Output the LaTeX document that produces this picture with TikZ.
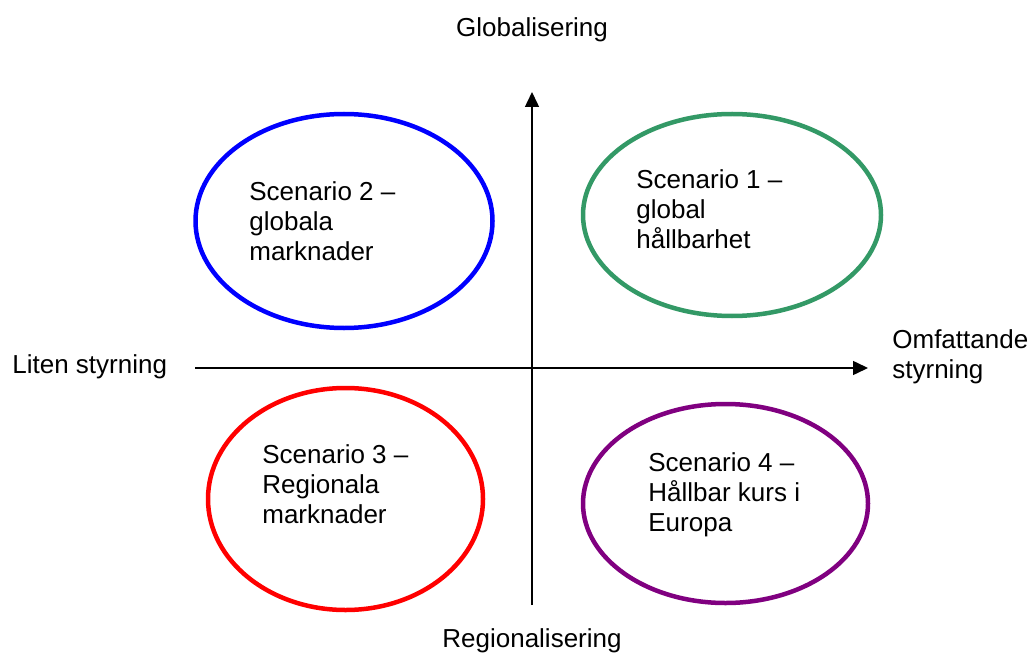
\documentclass[tikz,border=0pt]{standalone}
\usepackage{fontspec}
\setmainfont{Liberation Sans}
\usetikzlibrary{positioning}
\usetikzlibrary{shapes.geometric}
\usetikzlibrary{arrows.meta}
\definecolor{scgreen}{RGB}{51,153,102}
\definecolor{scpurple}{RGB}{128,0,128}
\begin{document}
\begin{tikzpicture}[
  font=\fontsize{14.8}{17}\selectfont,
  scen/.style={draw, ellipse, line width=0.09cm, inner sep=0pt},
  txt/.style={align=left, inner sep=0pt, anchor=west},
  axis/.style={-{Triangle[length=0.3cm, width=0.28cm]}, line width=0.03cm}
]
\useasboundingbox (0,0) rectangle (20.62,13.04);

% axes
\coordinate (w) at (3.9,5.68);
\coordinate (e) at (17.36,5.68);
\coordinate (s) at (10.64,0.94);
\coordinate (n) at (10.64,11.2);
\draw[axis] (w) -- (e);
\draw[axis] (s) -- (n);

\node (glob) at (10.64,12.45) {Globalisering};
\node (reg)  at (10.64,0.22) {Regionalisering};
\node[txt] (liten) at (0.24,5.7) {Liten styrning};
\node[txt] (omf)   at (17.84,5.9) {Omfattande\\styrning};

% scenarios
\node[scen, draw=blue, minimum width=5.94cm, minimum height=4.28cm] (s2) at (6.88,8.62) {};
\node[scen, draw=scgreen, minimum width=5.96cm, minimum height=4.04cm] (s1) at (14.64,8.74) {};
\node[scen, draw=red, minimum width=5.5cm, minimum height=4.44cm] (s3) at (6.91,3.06) {};
\node[scen, draw=scpurple, minimum width=5.7cm, minimum height=3.98cm] (s4) at (14.51,2.97) {};

\node[txt] (t2) at (4.98,8.62) {Scenario 2 --\\globala\\marknader};
\node[txt] (t1) at (12.72,8.86) {Scenario 1 --\\global\\hållbarhet};
\node[txt] (t3) at (5.24,3.36) {Scenario 3 --\\Regionala\\marknader};
\node[txt] (t4) at (12.96,3.14) {Scenario 4 --\\Hållbar kurs i\\Europa};

\end{tikzpicture}
\end{document}
